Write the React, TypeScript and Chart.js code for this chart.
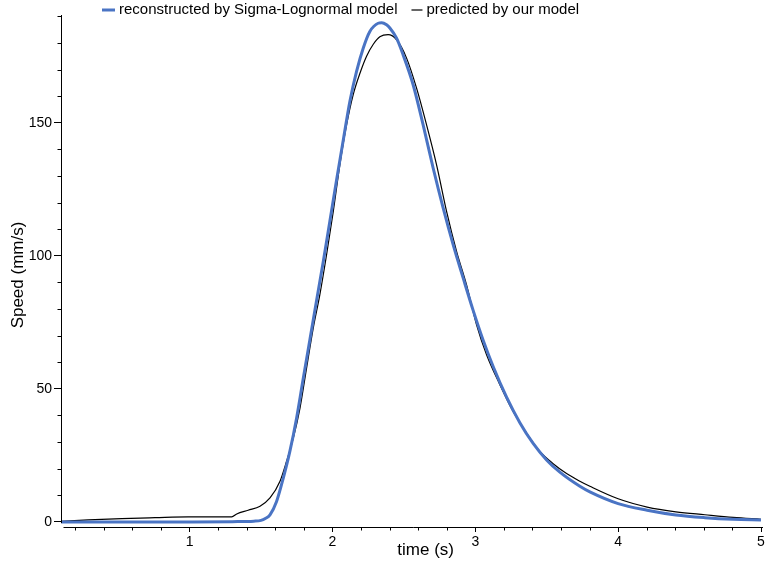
import React, { useEffect, useRef } from "react";
import { Chart, registerables } from "chart.js";

Chart.register(...registerables);

// ---- data ----
const blueTime = [
  0.1, 0.5, 1.0, 1.3, 1.45, 1.5, 1.53, 1.563, 1.609, 1.656, 1.702, 1.749, 1.796,
  1.843, 1.889, 1.936, 1.982, 2.029, 2.076, 2.122, 2.169, 2.216, 2.262, 2.32,
  2.345, 2.379, 2.402, 2.449, 2.495, 2.565, 2.635, 2.705, 2.775, 2.845, 2.915,
  2.985, 3.055, 3.125, 3.219, 3.312, 3.405, 3.499, 3.592, 3.732, 3.802, 4.0,
  4.203, 4.404, 4.607, 4.805, 5.0,
];
const blueSpeed = [
  0, 0, 0, 0.1, 0.3, 0.6, 1.3, 2.7, 7.7, 16.5, 26.5, 39, 54, 68.7, 83.2, 97.9,
  113, 128.5, 143.5, 158, 169.3, 178.1, 184.3, 187.4, 187.6, 186.8, 185.6,
  181.8, 175.5, 164.3, 149.2, 133, 118, 104.2, 91.7, 79.5, 68.3, 58.4, 46.9,
  37.3, 29.5, 23.3, 18.7, 13.4, 11.3, 6.9, 4.4, 2.6, 1.6, 1.0, 0.75,
];
const blackTime = [
  0.1, 0.29, 0.525, 0.758, 0.99, 1.295, 1.33, 1.41, 1.493, 1.563, 1.633, 1.679,
  1.726, 1.773, 1.819, 1.866, 1.912, 1.959, 2.006, 2.052, 2.099, 2.145, 2.192,
  2.239, 2.286, 2.332, 2.39, 2.449, 2.519, 2.589, 2.659, 2.729, 2.799, 2.869,
  2.939, 3.009, 3.079, 3.172, 3.265, 3.359, 3.452, 3.545, 3.639, 3.732, 3.802,
  4.0, 4.203, 4.404, 4.607, 4.805, 5.0,
];
const blackSpeed = [
  0.2, 0.75, 1.25, 1.6, 1.9, 1.9, 3.0, 4.4, 5.9, 9.0, 15.3, 22.8, 31.5, 42.8,
  57.8, 72.9, 85.4, 100.4, 116.7, 134.2, 149.2, 160.5, 168.5, 175, 179.5,
  182.3, 183.1, 181.2, 174.3, 163, 149.2, 134.2, 116.7, 101.7, 89.1, 74.1, 62.8,
  51.6, 41.5, 33.4, 26.5, 21.9, 18.2, 15.3, 13.4, 8.7, 5.6, 3.8, 2.7, 1.7, 1.0,
];

const seriesLabels = ["reconstructed by Sigma-Lognormal model", "predicted by our model"];
const seriesColors = ["#4a74c4", "#000000"];
const xTickValues = [1, 2, 3, 4, 5];
const xTickLabels = ["1", "2", "3", "4", "5"];
const yTickValues = [0, 50, 100, 150];
const yTickLabels = ["0", "50", "100", "150"];
const xTitle = "time (s)";
const yTitle = "Speed (mm/s)";
const X_MIN = 0.1;
const X_MAX = 5;
const Y_MIN = -1.9;
const Y_MAX = 190.5;
const X_MINOR_STEP = 0.2;
const Y_MINOR_STEP = 10;

const FONT = "'Liberation Sans', Arial, sans-serif";

const decorations = {
  id: "decorations",
  afterDraw(chart: any) {
    const { ctx, chartArea } = chart;
    const xs = chart.scales.x;
    const ys = chart.scales.y;
    const L = Math.round(chartArea.left) + 0.5;
    const B = Math.round(chartArea.bottom) + 0.5;
    ctx.save();
    ctx.strokeStyle = "#000";
    ctx.lineWidth = 1;
    // axis lines
    ctx.beginPath();
    ctx.moveTo(L, Math.round(chartArea.top));
    ctx.lineTo(L, Math.round(ys.getPixelForValue(0)) + 1);
    ctx.moveTo(L + 2, B);
    ctx.lineTo(Math.round(chartArea.right) + 2, B);
    ctx.stroke();
    // minor ticks
    ctx.beginPath();
    for (let v = Y_MINOR_STEP; v < Y_MAX; v += Y_MINOR_STEP) {
      if (Math.abs(v % 50) < 1e-6) continue;
      const y = Math.round(ys.getPixelForValue(v)) + 0.5;
      ctx.moveTo(L - 4, y);
      ctx.lineTo(L, y);
    }
    for (let i = 1; X_MINOR_STEP * i < X_MAX + 1e-9; i++) {
      const t = X_MINOR_STEP * i;
      if (t < X_MIN || Math.abs(t - Math.round(t)) < 1e-6) continue;
      const x = Math.round(xs.getPixelForValue(t)) + 0.5;
      ctx.moveTo(x, B);
      ctx.lineTo(x, B + 3);
    }
    ctx.stroke();

    // axis titles
    ctx.fillStyle = "#000";
    ctx.font = `17px ${FONT}`;
    ctx.textAlign = "center";
    ctx.textBaseline = "middle";
    ctx.fillText(xTitle, chartArea.left + (chartArea.right - chartArea.left) * 0.521, 550);
    ctx.save();
    ctx.translate(chartArea.left - 43, (chartArea.top + chartArea.bottom) / 2 + 4);
    ctx.rotate(-Math.PI / 2);
    ctx.fillText(yTitle, 0, 0);
    ctx.restore();

    // legend
    ctx.font = `15px ${FONT}`;
    ctx.textAlign = "left";
    ctx.textBaseline = "middle";
    let x = 102;
    const ly = 10;
    seriesLabels.forEach((lab, i) => {
      ctx.strokeStyle = seriesColors[i];
      ctx.lineWidth = i === 0 ? 3 : 1.2;
      ctx.beginPath();
      ctx.moveTo(x, ly);
      ctx.lineTo(x + (i === 0 ? 13 : 11), ly);
      ctx.stroke();
      x += i === 0 ? 17 : 15;
      ctx.fillText(lab, x, ly);
      x += ctx.measureText(lab).width + 14;
    });
    ctx.restore();
  },
};

export default function App() {
  const ref = useRef<HTMLCanvasElement | null>(null);
  useEffect(() => {
    if (!ref.current) return;
    const chart = new Chart(ref.current, {
      type: "line",
      data: {
        datasets: [
          {
            label: seriesLabels[0],
            data: blueTime.map((t, i) => ({ x: t, y: blueSpeed[i] })),
            borderColor: seriesColors[0],
            borderWidth: 3,
            pointRadius: 0,
            cubicInterpolationMode: "monotone",
            fill: false,
          },
          {
            label: seriesLabels[1],
            data: blackTime.map((t, i) => ({ x: t, y: blackSpeed[i] })),
            borderColor: seriesColors[1],
            borderWidth: 1.2,
            pointRadius: 0,
            cubicInterpolationMode: "monotone",
            fill: false,
          },
        ],
      },
      options: {
        animation: false,
        responsive: false,
        devicePixelRatio: 1,
        layout: { padding: { top: 15, right: 0, left: 0, bottom: 0 } },
        plugins: { legend: { display: false }, tooltip: { enabled: false } },
        scales: {
          x: {
            type: "linear",
            min: X_MIN,
            max: X_MAX,
            afterBuildTicks: (s: any) => {
              s.ticks = xTickValues.map((v) => ({ value: v }));
            },
            afterFit: (s: any) => {
              s.height = 39;
              s.paddingLeft = 0;
              s.paddingRight = 4;
            },
            ticks: {
              autoSkip: false,
              maxRotation: 0,
              padding: 2,
              color: "#000",
              font: { family: FONT, size: 14 },
              callback: (v: any) => {
                const i = xTickValues.indexOf(Number(v));
                return i >= 0 ? xTickLabels[i] : "";
              },
            },
            grid: { display: true, drawOnChartArea: false, drawTicks: true, tickLength: 5, color: "#000" },
            border: { display: false },
          },
          y: {
            type: "linear",
            min: Y_MIN,
            max: Y_MAX,
            afterBuildTicks: (s: any) => {
              s.ticks = yTickValues.map((v) => ({ value: v }));
            },
            afterFit: (s: any) => {
              s.width = 61;
            },
            ticks: {
              autoSkip: false,
              padding: 2,
              color: "#000",
              font: { family: FONT, size: 14 },
              callback: (v: any) => {
                const i = yTickValues.indexOf(Number(v));
                return i >= 0 ? yTickLabels[i] : "";
              },
            },
            grid: { display: true, drawOnChartArea: false, drawTicks: true, tickLength: 7, color: "#000" },
            border: { display: false },
          },
        },
      },
      plugins: [decorations],
    } as any);
    return () => chart.destroy();
  }, []);
  return (
    <div style={{ position: "fixed", left: 0, top: 0, width: 765, height: 566, background: "#fff" }}>
      <canvas ref={ref} width={765} height={566} style={{ display: "block" }} />
    </div>
  );
}
